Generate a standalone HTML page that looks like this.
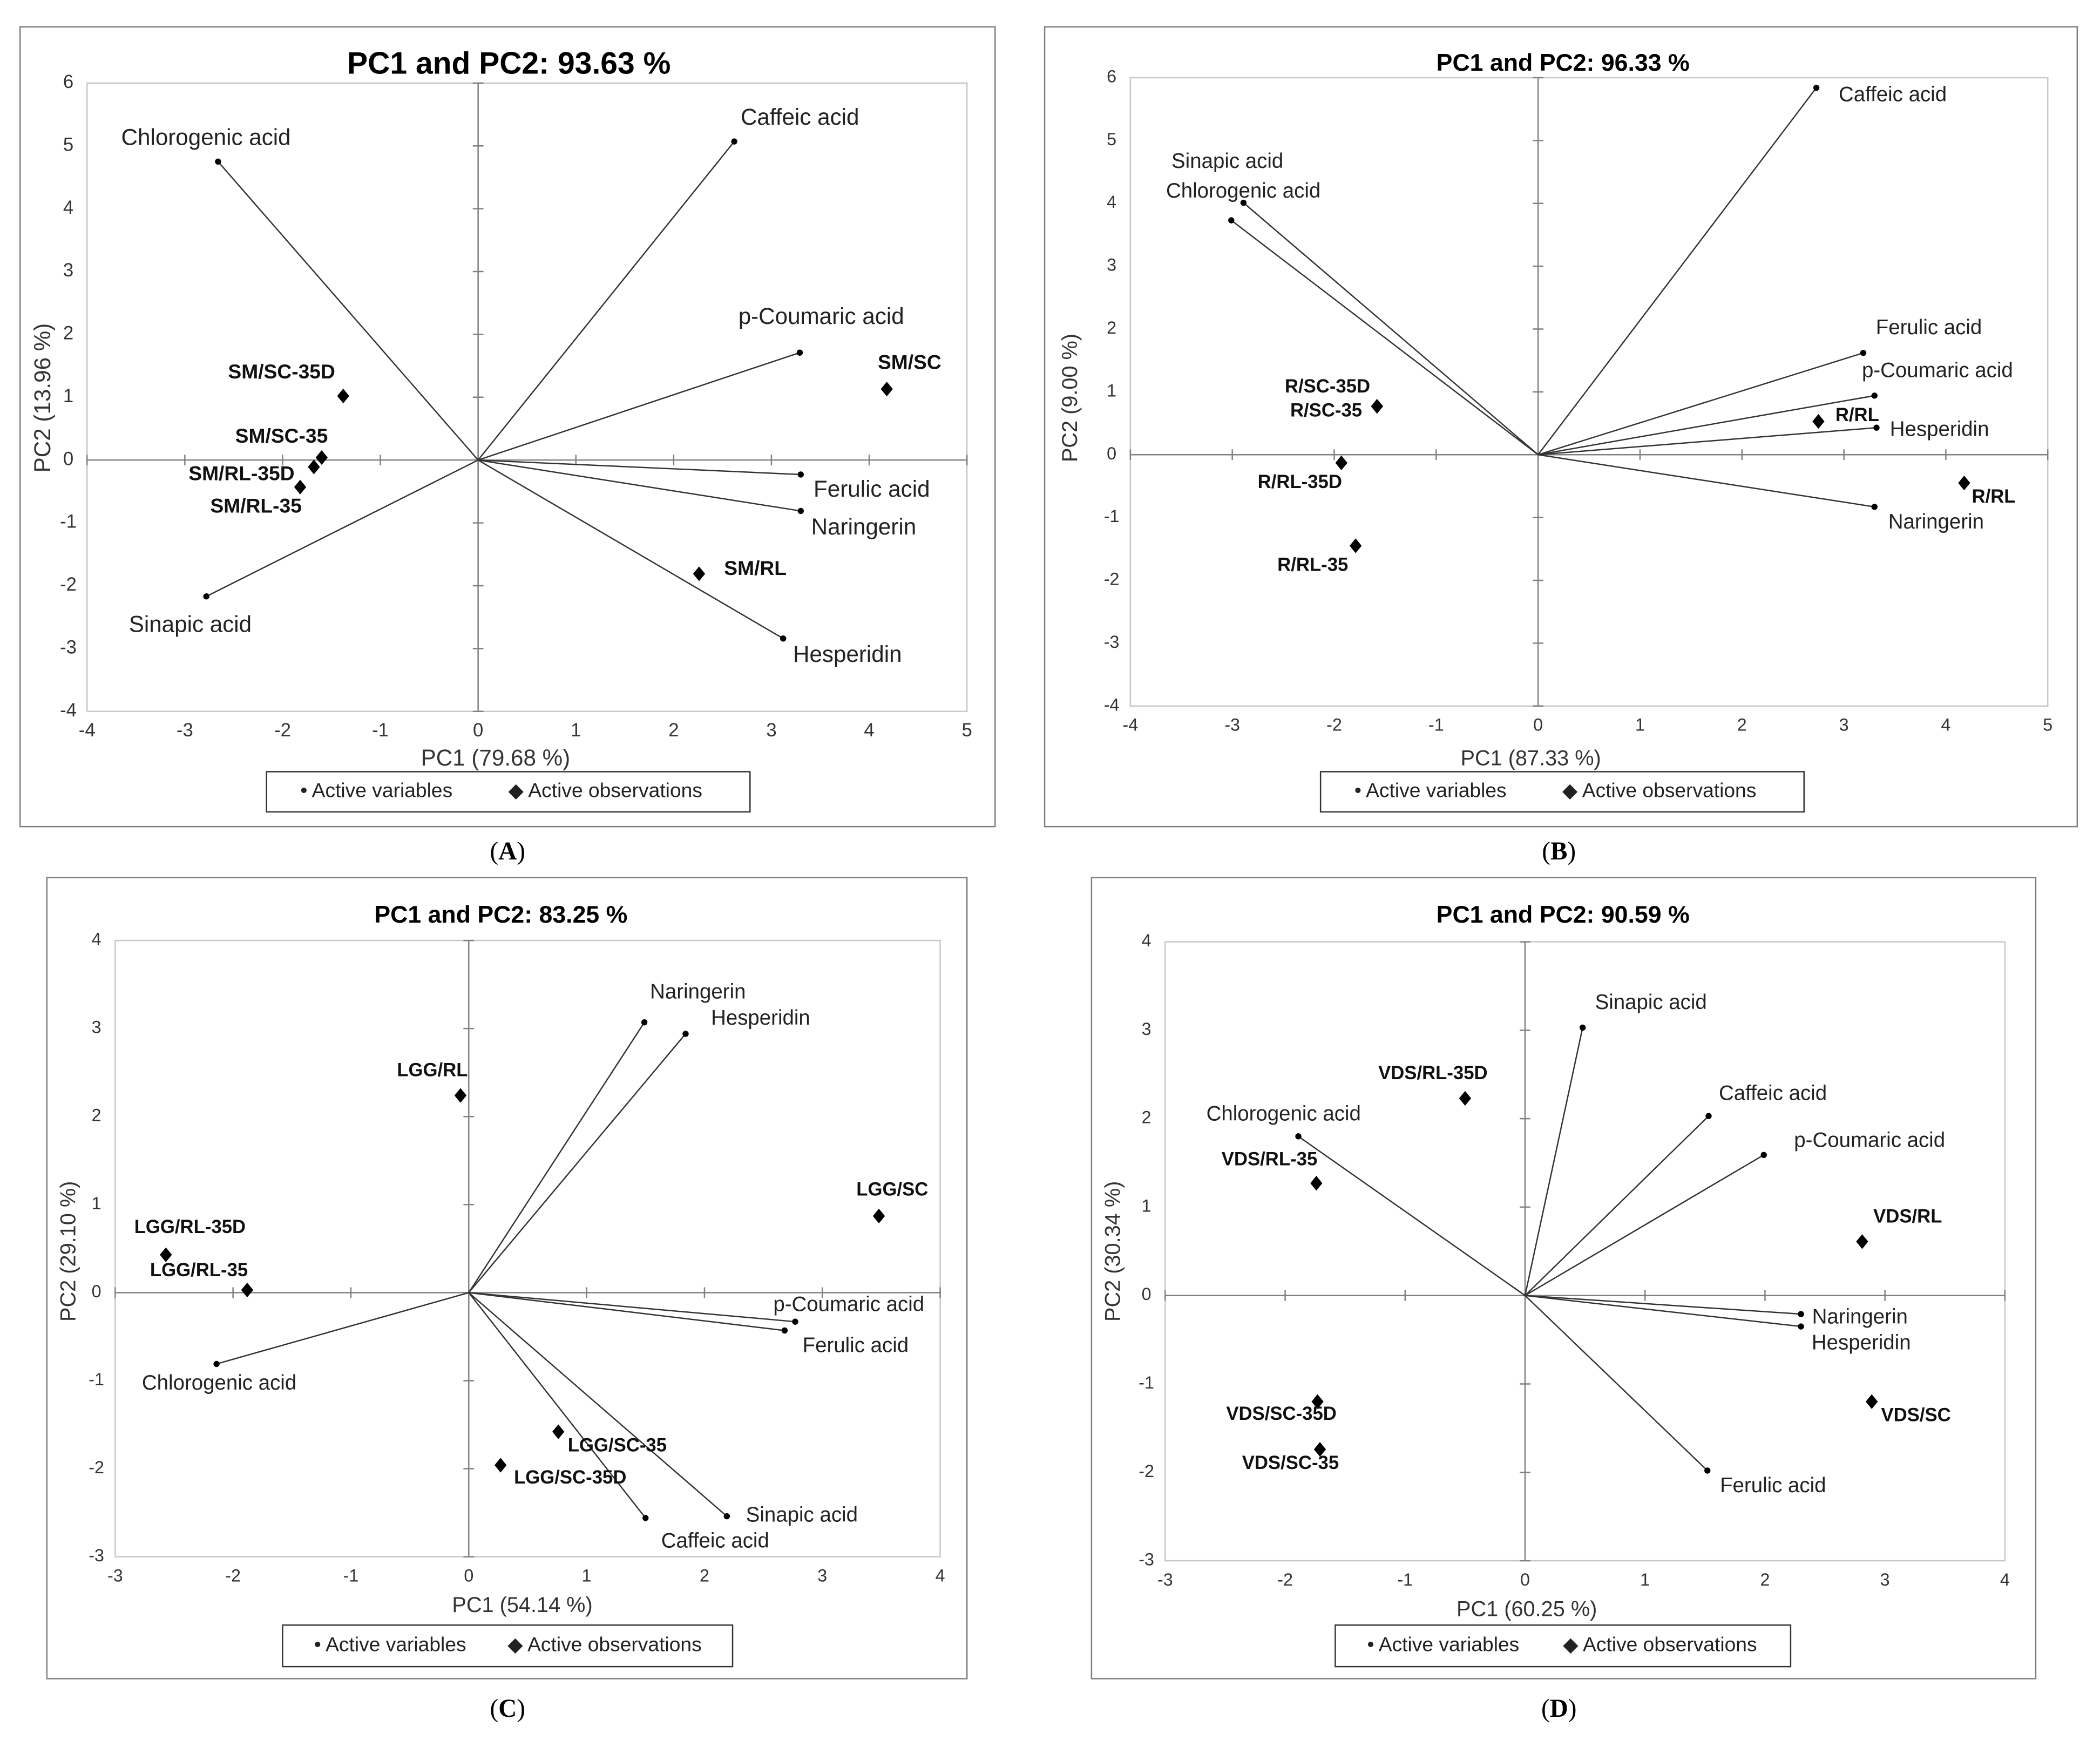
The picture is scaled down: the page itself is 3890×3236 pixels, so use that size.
<!DOCTYPE html>
<html><head><meta charset="utf-8"><style>
html,body{margin:0;padding:0;background:#fff;}
svg{display:block;font-family:"Liberation Sans",Arial,sans-serif;}
</style></head><body>
<svg id="fig" width="3890" height="3236" viewBox="0 0 1568 1304" preserveAspectRatio="none" xmlns="http://www.w3.org/2000/svg"></svg>
<script>
// ---- Panel A data ----
const aVarNames = ["Chlorogenic acid","Caffeic acid","p-Coumaric acid","Ferulic acid","Naringerin","Hesperidin","Sinapic acid"];
const aVarX = [-2.66, 2.62, 3.29, 3.30, 3.30, 3.12, -2.78];
const aVarY = [4.75, 5.07, 1.71, -0.23, -0.81, -2.84, -2.17];
const aObsNames = ["SM/SC-35D","SM/SC-35","SM/RL-35D","SM/RL-35","SM/SC","SM/RL"];
const aObsX = [-1.38, -1.60, -1.68, -1.82, 4.18, 2.26];
const aObsY = [1.02, 0.04, -0.11, -0.43, 1.13, -1.81];
const aXTicks = [-4,-3,-2,-1,0,1,2,3,4,5];
const aYTicks = [-4,-3,-2,-1,0,1,2,3,4,5,6];
// ---- Panel B data ----
const bVarNames = ["Caffeic acid","Sinapic acid","Chlorogenic acid","Ferulic acid","p-Coumaric acid","Hesperidin","Naringerin"];
const bVarX = [2.73, -2.89, -3.01, 3.19, 3.30, 3.32, 3.30];
const bVarY = [5.84, 4.01, 3.73, 1.62, 0.94, 0.43, -0.83];
const bObsNames = ["R/SC-35D","R/SC-35","R/RL-35D","R/RL-35","R/RL","R/RL"];
const bObsX = [-1.58, -1.58, -1.93, -1.79, 2.75, 4.18];
const bObsY = [0.77, 0.77, -0.13, -1.45, 0.53, -0.45];
const bXTicks = [-4,-3,-2,-1,0,1,2,3,4,5];
const bYTicks = [-4,-3,-2,-1,0,1,2,3,4,5,6];
// ---- Panel C data ----
const cVarNames = ["Naringerin","Hesperidin","p-Coumaric acid","Ferulic acid","Caffeic acid","Sinapic acid","Chlorogenic acid"];
const cVarX = [1.49, 1.84, 2.77, 2.68, 1.50, 2.19, -2.14];
const cVarY = [3.07, 2.94, -0.33, -0.43, -2.56, -2.54, -0.81];
const cObsNames = ["LGG/RL","LGG/SC","LGG/RL-35D","LGG/RL-35","LGG/SC-35","LGG/SC-35D"];
const cObsX = [-0.07, 3.48, -2.57, -1.88, 0.76, 0.27];
const cObsY = [2.24, 0.87, 0.43, 0.03, -1.58, -1.96];
const cXTicks = [-3,-2,-1,0,1,2,3,4];
const cYTicks = [-3,-2,-1,0,1,2,3,4];
// ---- Panel D data ----
const dVarNames = ["Sinapic acid","Caffeic acid","p-Coumaric acid","Chlorogenic acid","Naringerin","Hesperidin","Ferulic acid"];
const dVarX = [0.48, 1.53, 1.99, -1.89, 2.30, 2.30, 1.52];
const dVarY = [3.03, 2.03, 1.59, 1.80, -0.21, -0.35, -1.98];
const dObsNames = ["VDS/RL-35D","VDS/RL-35","VDS/RL","VDS/SC","VDS/SC-35D","VDS/SC-35"];
const dObsX = [-0.50, -1.74, 2.81, 2.89, -1.73, -1.71];
const dObsY = [2.23, 1.27, 0.61, -1.20, -1.20, -1.74];
const dXTicks = [-3,-2,-1,0,1,2,3,4];
const dYTicks = [-3,-2,-1,0,1,2,3,4];

const NS = "http://www.w3.org/2000/svg";
const svg = document.getElementById('fig');
function mk(tag, attrs, parent, txt){
  const e = document.createElementNS(NS, tag);
  for (const k in attrs) e.setAttribute(k, attrs[k]);
  if (txt !== undefined) e.textContent = txt;
  (parent || svg).appendChild(e);
  return e;
}

const panels = [
 {id:'a', letter:'A', title:'PC1 and PC2: 93.63 %', tsize:23, fs:{tick:14, v:17, o:15, ax:17}, box:[15,20,743,617], xr:[-4,5], px:[65,722], yr:[-4,6], py:[531,62],
  tpos:[380,49], xl:'PC1 (79.68 %)', xlp:[370,567], yl:'PC2 (13.96 %)', ylp:[33,297], leg:[199,576,560,606], cap:[379,637],
  vn:aVarNames, vx:aVarX, vy:aVarY, on:aObsNames, ox:aObsX, oy:aObsY, xt:aXTicks, yt:aYTicks,
  vOff:[[-9,-17],[49,-17],[16,-26],[53,12],[47,13],[48,13],[-12,22]],
  oOff:[[-46,-17],[-30,-15],[-54,6],[-33,15],[17,-19],[42,-3]]},
 {id:'b', letter:'B', title:'PC1 and PC2: 96.33 %', tsize:18, fs:{tick:13, v:15.5, o:14, ax:16}, box:[780,20,1551,617], xr:[-4,5], px:[844,1529], yr:[-4,6], py:[527,58],
  tpos:[1167,48], xl:'PC1 (87.33 %)', xlp:[1143,567], yl:'PC2 (9.00 %)', ylp:[800,297], leg:[986,576,1347,606], cap:[1164,637],
  vn:bVarNames, vx:bVarX, vy:bVarY, on:bObsNames, ox:bObsX, oy:bObsY, xt:bXTicks, yt:bYTicks,
  vOff:[[57,6],[-12,-30],[9,-21],[49,-18],[47,-18],[47,2],[46,12]],
  oOff:[[-37,-14],[-38,4],[-31,15],[-32,15],[29,-4],[22,11]]},
 {id:'c', letter:'C', title:'PC1 and PC2: 83.25 %', tsize:18, fs:{tick:13, v:15.5, o:14, ax:16}, box:[35,655,722,1253], xr:[-3,4], px:[86,702], yr:[-3,4], py:[1162,702],
  tpos:[374,684], xl:'PC1 (54.14 %)', xlp:[390,1199], yl:'PC2 (29.10 %)', ylp:[52,934], leg:[211,1213,547,1244], cap:[379,1277],
  vn:cVarNames, vx:cVarX, vy:cVarY, on:cObsNames, ox:cObsX, oy:cObsY, xt:cXTicks, yt:cYTicks,
  vOff:[[40,-22],[56,-11],[40,-12],[53,12],[52,18],[56,0],[2,15]],
  oOff:[[-21,-18],[10,-19],[18,-20],[-36,-14],[44,11],[52,10]]},
 {id:'d', letter:'D', title:'PC1 and PC2: 90.59 %', tsize:18, fs:{tick:13, v:15.5, o:14, ax:16}, box:[815,655,1520,1253], xr:[-3,4], px:[870,1497], yr:[-3,4], py:[1165,703],
  tpos:[1167,684], xl:'PC1 (60.25 %)', xlp:[1140,1202], yl:'PC2 (30.34 %)', ylp:[832,934], leg:[997,1213,1337,1244], cap:[1164,1277],
  vn:dVarNames, vx:dVarX, vy:dVarY, on:dObsNames, ox:dObsX, oy:dObsY, xt:dXTicks, yt:dYTicks,
  vOff:[[51,-18],[48,-16],[79,-10],[-11,-16],[44,3],[45,13],[49,12]],
  oOff:[[-24,-18],[-35,-17],[34,-18],[33,11],[-27,10],[-22,11]]}
];

function slug(s){return s.toLowerCase().replace(/[^a-z0-9]+/g,'-').replace(/^-|-$/g,'');}

panels.forEach(p => {
  const g = mk('g', {});
  
  
  const X = v => p.px[0] + (v - p.xr[0]) / (p.xr[1] - p.xr[0]) * (p.px[1] - p.px[0]);
  const Y = v => p.py[0] + (v - p.yr[0]) / (p.yr[1] - p.yr[0]) * (p.py[1] - p.py[0]);
  const b = p.box;
  const border = mk('rect', {x:b[0], y:b[1], width:b[2]-b[0], height:b[3]-b[1], fill:'#fff', stroke:'#7f7f7f', 'stroke-width':1}, g);
  
  
  const frame = mk('rect', {x:p.px[0], y:p.py[1], width:p.px[1]-p.px[0], height:p.py[0]-p.py[1], fill:'none', stroke:'#c8c8c8', 'stroke-width':1}, g);
  
  
  const t = mk('text', {x:p.tpos[0], y:p.tpos[1], 'text-anchor':'middle', 'dominant-baseline':'middle', 'font-size':p.tsize, 'font-weight':'bold'}, g, p.title);
  
  
  const x0 = X(0), y0 = Y(0);
  const va = mk('line', {x1:x0, y1:p.py[1], x2:x0, y2:p.py[0], stroke:'#808080', 'stroke-width':1}, g);
  
  
  const ha = mk('line', {x1:p.px[0], y1:y0, x2:p.px[1], y2:y0, stroke:'#808080', 'stroke-width':1}, g);
  
  
  p.xt.forEach(v => {
    const tk = mk('line', {x1:X(v), y1:y0-4, x2:X(v), y2:y0+4, stroke:'#808080'}, g);
    
    
    const tl = mk('text', {x:X(v), y:p.py[0]+15, 'text-anchor':'middle', 'dominant-baseline':'middle', 'font-size':p.fs.tick, fill:'#333'}, g, String(v));
    
    
  });
  p.yt.forEach(v => {
    const tk = mk('line', {x1:x0-4, y1:Y(v), x2:x0+4, y2:Y(v), stroke:'#808080'}, g);
    
    
    const tl = mk('text', {x:p.px[0]-14, y:Y(v), 'text-anchor':'middle', 'dominant-baseline':'middle', 'font-size':p.fs.tick, fill:'#333'}, g, String(v));
    
    
  });
  const xl = mk('text', {x:p.xlp[0], y:p.xlp[1], 'text-anchor':'middle', 'dominant-baseline':'middle', 'font-size':p.fs.ax, fill:'#333'}, g, p.xl);
  
  
  const yl = mk('text', {x:p.ylp[0], y:p.ylp[1], 'text-anchor':'middle', 'dominant-baseline':'middle', 'font-size':p.fs.ax, fill:'#333', transform:'rotate(-90 '+p.ylp[0]+' '+p.ylp[1]+')'}, g, p.yl);
  
  
  p.vn.forEach((n, i) => {
    const px = X(p.vx[i]), py = Y(p.vy[i]);
    const ln = mk('line', {x1:x0, y1:y0, x2:px, y2:py, stroke:'#333', 'stroke-width':1}, g);
    
    
    const c = mk('circle', {cx:px, cy:py, r:2.3, fill:'#000'}, g);
    
    
    const tx = mk('text', {x:px+p.vOff[i][0], y:py+p.vOff[i][1], 'text-anchor':'middle', 'dominant-baseline':'middle', 'font-size':p.fs.v, fill:'#222'}, g, n);
    
    
  });
  p.on.forEach((n, i) => {
    const px = X(p.ox[i]), py = Y(p.oy[i]);
    const d = mk('polygon', {points:(px)+','+(py-5.5)+' '+(px+4.5)+','+py+' '+px+','+(py+5.5)+' '+(px-4.5)+','+py, fill:'#000'}, g);
    
    
    const tx = mk('text', {x:px+p.oOff[i][0], y:py+p.oOff[i][1], 'text-anchor':'middle', 'dominant-baseline':'middle', 'font-size':p.fs.o, 'font-weight':'bold', fill:'#111'}, g, n);
    
    
  });
  const L = p.leg;
  const lg = mk('g', {}, g);
  
  
  mk('rect', {x:L[0], y:L[1], width:L[2]-L[0], height:L[3]-L[1], fill:'#fff', stroke:'#333', 'stroke-width':1}, lg);
  const w = L[2]-L[0], cy = (L[1]+L[3])/2;
  const e1 = mk('text', {x:L[0]+w*0.07, y:cy, 'dominant-baseline':'middle', 'font-size':15, fill:'#222'}, lg, '\u2022 Active variables');
  
  
  const e2 = mk('text', {x:L[0]+w*0.50, y:cy, 'dominant-baseline':'middle', 'font-size':15, fill:'#222'}, lg, '\u25C6 Active observations');
  
  
  const cap = mk('text', {x:p.cap[0], y:p.cap[1], 'text-anchor':'middle', 'dominant-baseline':'middle', 'font-size':19, 'font-family':'"Liberation Serif", serif'}, svg);
  
  
  mk('tspan', {}, cap, '(');
  mk('tspan', {'font-weight':'bold'}, cap, p.letter);
  mk('tspan', {}, cap, ')');
});
</script>
</body></html>
